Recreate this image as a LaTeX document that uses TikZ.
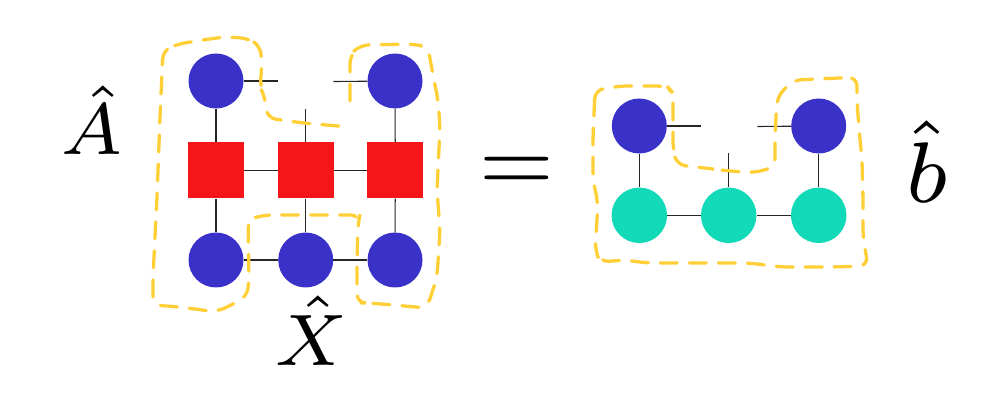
\documentclass[tikz,border=0pt]{standalone}
\usepackage{graphicx}
\definecolor{cblue}{RGB}{58,50,200}
\definecolor{cred}{RGB}{245,22,26}
\definecolor{cteal}{RGB}{18,217,183}
\definecolor{cyellow}{RGB}{255,207,55}
\begin{document}
\begin{tikzpicture}[x=1pt,y=-1pt,
  bluenode/.style={circle, fill=cblue, minimum size=55pt, inner sep=0pt},
  rednode/.style={rectangle, fill=cred, minimum size=56pt, inner sep=0pt},
  tealnode/.style={circle, fill=cteal, minimum size=55.5pt, inner sep=0pt},
  bond/.style={draw=black!85, line width=1.1pt},
  fence/.style={draw=cyellow, line width=3.3pt, line cap=round, rounded corners=9pt, dash pattern=on 17pt off 12pt},
  lbl/.style={anchor=base, inner sep=0pt}]
\useasboundingbox (0,0) rectangle (993,403);

% left network
\node[bluenode] (a1) at (216,81) {};
\node[bluenode] (a3) at (395,81) {};
\node[rednode] (s1) at (216,170.5) {};
\node[rednode] (s2) at (305.7,170.5) {};
\node[rednode] (s3) at (395.3,170.5) {};
\node[bluenode] (x1) at (216,260) {};
\node[bluenode] (x2) at (305.7,260) {};
\node[bluenode] (x3) at (395,260) {};
\coordinate (a1e) at (277.7,81);
\coordinate (a3e) at (333.3,81.5);
\coordinate (s2e) at (305.7,109);

\draw[bond] (a1) -- (a1e);
\draw[bond] (a3e) -- (a3);
\draw[bond] (s2e) -- (s2);
\draw[bond] (a1) -- (s1);
\draw[bond] (a3) -- (s3);
\draw[bond] (s1) -- (s2);
\draw[bond] (s2) -- (s3);
\draw[bond] (s1) -- (x1);
\draw[bond] (s2) -- (x2);
\draw[bond] (s3) -- (x3);
\draw[bond] (x1) -- (x2);
\draw[bond] (x2) -- (x3);

% right network
\node[bluenode] (b1) at (639.3,126) {};
\node[bluenode] (b3) at (818.7,126) {};
\node[tealnode] (t1) at (639.3,215.3) {};
\node[tealnode] (t2) at (728.7,215.3) {};
\node[tealnode] (t3) at (818.7,215.3) {};
\coordinate (b1e) at (701,126);
\coordinate (b3e) at (757.3,126.5);
\coordinate (t2e) at (728.7,153.3);

\draw[bond] (b1) -- (b1e);
\draw[bond] (b3e) -- (b3);
\draw[bond] (t2e) -- (t2);
\draw[bond] (b1) -- (t1);
\draw[bond] (b3) -- (t3);
\draw[bond] (t1) -- (t2);
\draw[bond] (t2) -- (t3);

% dashed fences
\draw[fence] (350,101) -- (350,55) -- (360,45) -- (413,44) -- (428,47) -- (432,70) -- (438,100)
  -- (440,127) -- (437,190) -- (440,230) -- (437,277) -- (427,308) -- (370,303) -- (357,303)
  -- (357,260) -- (358,223) -- (360,215) -- (263,215) -- (248,220) -- (249,280) -- (247,297)
  -- (217,312) -- (180,307) -- (153,305) -- (153,277) -- (157,197) -- (160,117) -- (163,50)
  -- (178,44) -- (203,40) -- (223,37) -- (247,38) -- (260,45) -- (262,63) -- (260,87)
  -- (265,97) -- (267,118) -- (303,123) -- (350,127);
\draw[fence] (595,90) -- (593,137) -- (593,180) -- (598,203) -- (595,250) -- (600,262)
  -- (625,260) -- (647,263) -- (693,263) -- (750,263) -- (780,267) -- (830,267) -- (868,266)
  -- (863,237) -- (863,197) -- (862,160) -- (859,128) -- (857,102) -- (857,77) -- (840,78)
  -- (793,80) -- (777,97) -- (775,137) -- (775,167) -- (753,173) -- (720,170) -- (705,168)
  -- (677,165) -- (673,150) -- (673,93) -- (667,86) -- (620,86) -- cycle;

% labels
\node[lbl] (la) at (92,155) {\scalebox{10.43}{$\scriptstyle\hat{A}$}};
\node[lbl] (lx) at (312,365) {\scalebox{10.43}{$\scriptstyle\hat{X}$}};
\node[lbl] (lb) at (927,203) {\scalebox{12.3}{$\scriptstyle\hat{b}$}};
\node[lbl] (eq) at (517,193) {\scalebox{9.6}{$=$}};
\end{tikzpicture}
\end{document}
